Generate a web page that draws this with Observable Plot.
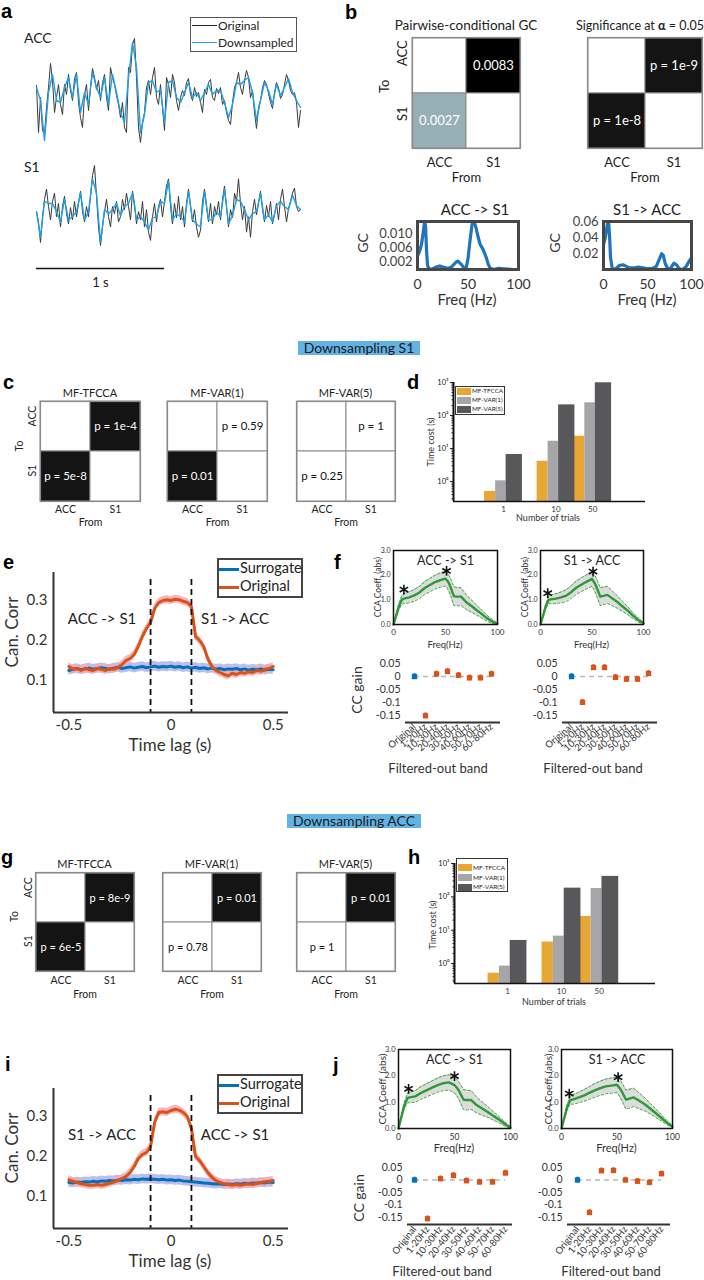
<!DOCTYPE html>
<html>
<head>
<meta charset="utf-8">
<script src="https://cdn.jsdelivr.net/npm/d3@7"></script>
<script src="https://cdn.jsdelivr.net/npm/@observablehq/plot@0.6"></script>
<style>
  html, body { margin: 0; padding: 0; background: #fff; }
  #fig { position: relative; width: 704px; height: 1280px; overflow: hidden; background: #fff; }
  .t { position: absolute; white-space: nowrap; line-height: 1; }
</style>
</head>
<body>
<div id="fig"></div>
<script>
// ---------------- data ----------------
// a: example traces (arbitrary units), original and downsampled
const rateOriginal = 64;     // samples per second
const rateDownsampled = 32;
const accOriginal = [7,-40,-5,-38,-42,-15,5,29,12,-20,-5,8,-12,-22,8,-2,18,2,-8,14,20,-10,-25,-35,-2,8,-18,5,24,15,3,12,-8,10,18,-5,-18,25,15,8,-3,-12,-25,-10,-35,-40,25,20,48,54,15,-35,-50,-30,-20,5,12,-2,15,25,-5,-12,8,-15,-38,15,8,-5,18,10,-8,-18,-5,2,-3,10,14,-2,-8,5,-4,0,-10,-20,3,-2,10,13,-5,-8,4,-1,5,-12,-8,-20,-28,-32,-10,5,10,20,5,-2,12,22,15,-5,2,-20,-36,-15,-8,5,12,8,-1,-10,-16,0,10,5,-6,-2,8,18,12,2,-2,0,-10,-35,-18];
const accDownsampled = [5,-8,-48,0,18,-8,-10,5,15,-5,18,-20,0,-12,20,5,-5,15,-12,18,0,-20,-30,15,50,25,-40,-22,10,12,0,3,-30,10,12,-5,-10,0,10,-5,0,-8,0,8,-2,2,2,-10,-25,-12,10,8,12,15,0,-28,-8,10,2,-12,8,-3,5,14,0,-8,-15];
const s1Original = [0,-10,-30,-5,12,22,5,-8,10,18,-5,8,-15,5,15,-2,-12,4,-8,10,-5,8,20,0,-10,5,-5,15,35,45,15,-15,-33,-15,0,12,-5,-15,5,-2,10,-10,-5,12,2,18,5,-8,20,8,-12,0,-8,10,-15,2,-20,-28,-5,8,-10,5,12,-5,10,25,32,5,-12,8,-6,15,-8,5,-15,8,22,5,-10,2,-15,-25,-18,10,22,5,-10,8,-12,5,-3,10,-8,12,25,5,-15,2,-6,18,10,32,8,-8,5,-20,-5,-25,0,12,-3,8,20,2,-10,6,-5,10,-12,-3,8,-8,12,22,5,-10,3,10,18,23,5,0,2];
const s1Downsampled = [0,-25,10,8,8,0,-10,12,-8,-5,0,18,-8,0,32,18,-30,2,-2,2,8,-4,5,8,18,-8,-5,-10,-18,-6,-5,10,8,30,-8,-2,-5,-10,20,-8,-12,-15,20,-8,-8,0,-5,22,-12,-4,12,10,2,-8,-2,0,18,-8,-3,-10,6,10,5,2,16,6,2];
const scaleBar = [{from: 0, to: 1, label: "1 s"}];

// b: pairwise-conditional GC between the two regions
const regions = ["ACC", "S1"];
const gcMagnitude = [0.0027, 0.0083];   // ACC -> S1, S1 -> ACC
const gcPValue = [1e-8, 1e-9];          // ACC -> S1, S1 -> ACC
const alpha = 0.05;
const gcFreqAccToS1 = [0,2,4,6,7,8,9,10,12,15,18,22,26,30,34,38,40,43,46,48,50,52,54,56,58,60,62,65,68,70,72,76,80,85,90,95,100];
const gcAccToS1 = [0.0038,0.005,0.007,0.011,0.0133,0.012,0.005,0.001,0,0.0002,0.0006,0.001,0.0006,0.0003,0.0008,0.002,0.0023,0.0015,0.0005,0.0002,0.003,0.008,0.0125,0.0133,0.0115,0.009,0.007,0.0055,0.0034,0.0015,0.0003,0,0.0003,0.0002,0.0001,0,0];
const gcFreqS1ToAcc = [0,2,4,5,6,7,8,10,12,15,18,22,26,30,35,40,45,50,55,60,63,66,68,70,73,76,80,83,86,90,94,97,100];
const gcS1ToAcc = [0.032,0.04,0.055,0.061,0.058,0.04,0.015,0.001,0,0.002,0.005,0.006,0.004,0.002,0.002,0.003,0.002,0.001,0.001,0.004,0.012,0.02,0.018,0.008,0.001,0.001,0.008,0.006,0.001,0,0.004,0.01,0.015];

// c, g: significance of each direction for the three methods
const methods = ["MF-TFCCA", "MF-VAR(1)", "MF-VAR(5)"];
const pDownS1AccToS1 = [5e-8, 0.01, 0.25];
const pDownS1S1ToAcc = [1e-4, 0.59, 1];
const pDownAccAccToS1 = [6e-5, 0.78, 1];
const pDownAccS1ToAcc = [8e-9, 0.01, 0.01];

// d, h: computation time (s) by number of trials
const trialCounts = [1, 10, 50];
const costS1Tfcca = [0.5, 4.1, 23.6];
const costS1Var1 = [1.05, 16.6, 243];
const costS1Var5 = [6.6, 210, 980];
const costAccTfcca = [0.51, 4.4, 25.8];
const costAccVar1 = [0.83, 6.6, 178];
const costAccVar5 = [4.9, 182, 410];

// e, i: canonical correlation by time lag
const lagTime = [-0.5,-0.48,-0.46,-0.44,-0.42,-0.4,-0.38,-0.36,-0.34,-0.32,-0.3,-0.28,-0.26,-0.24,-0.22,-0.2,-0.18,-0.16,-0.14,-0.12,-0.1,-0.08,-0.06,-0.04,-0.02,0,0.02,0.04,0.06,0.08,0.1,0.12,0.14,0.16,0.18,0.2,0.22,0.24,0.26,0.28,0.3,0.32,0.34,0.36,0.38,0.4,0.42,0.44,0.46,0.48,0.5];
const lagS1Original = [0.135,0.128,0.130,0.125,0.130,0.127,0.125,0.130,0.128,0.125,0.130,0.128,0.132,0.140,0.150,0.155,0.165,0.185,0.210,0.230,0.245,0.280,0.295,0.300,0.302,0.300,0.303,0.302,0.298,0.295,0.285,0.210,0.200,0.185,0.155,0.135,0.125,0.120,0.115,0.112,0.118,0.115,0.120,0.118,0.122,0.120,0.125,0.123,0.128,0.130,0.135];
const lagS1Surrogate = [0.125,0.128,0.130,0.127,0.129,0.131,0.128,0.130,0.132,0.130,0.128,0.131,0.133,0.130,0.132,0.134,0.131,0.133,0.135,0.132,0.134,0.136,0.133,0.135,0.134,0.136,0.133,0.135,0.132,0.134,0.131,0.133,0.130,0.132,0.129,0.131,0.128,0.130,0.127,0.129,0.128,0.130,0.127,0.129,0.126,0.128,0.127,0.129,0.126,0.128,0.127];
const lagAccOriginal = [0.142,0.138,0.135,0.132,0.130,0.128,0.128,0.130,0.128,0.130,0.133,0.136,0.140,0.145,0.150,0.160,0.175,0.195,0.205,0.210,0.225,0.285,0.310,0.312,0.310,0.315,0.318,0.316,0.310,0.300,0.270,0.200,0.190,0.175,0.160,0.148,0.140,0.135,0.132,0.130,0.128,0.130,0.128,0.130,0.132,0.130,0.133,0.135,0.137,0.138,0.140];
const lagAccSurrogate = [0.135,0.134,0.136,0.135,0.137,0.136,0.138,0.137,0.139,0.138,0.140,0.139,0.141,0.140,0.142,0.141,0.143,0.142,0.144,0.143,0.144,0.143,0.142,0.143,0.141,0.142,0.140,0.141,0.139,0.138,0.137,0.136,0.135,0.134,0.133,0.132,0.131,0.132,0.130,0.131,0.130,0.132,0.131,0.133,0.132,0.134,0.133,0.135,0.134,0.136,0.135];
const lagSemOriginal = 0.01;
const lagSemSurrogate = 0.012;
const lagBounds = [-0.1, 0.1];

// f, j: CCA coefficient spectra
const ccaFreq = [0,5,8,10,15,20,25,30,35,40,45,50,53,55,58,60,65,70,75,80,85,90,95,100];
const ccaS1AccToS1 = [0,0.7,1.0,1.05,1.1,1.18,1.3,1.48,1.6,1.72,1.8,1.86,1.7,1.5,1.15,1.13,1.13,0.9,0.75,0.58,0.42,0.25,0.12,0.03];
const ccaS1S1ToAcc = [0,0.72,1.0,1.02,1.05,1.1,1.17,1.32,1.5,1.62,1.74,1.85,1.65,1.45,1.13,1.15,1.2,1.05,0.9,0.72,0.55,0.35,0.18,0.05];
const ccaAccAccToS1 = [0,0.85,1.15,1.18,1.22,1.35,1.45,1.55,1.65,1.72,1.75,1.65,1.5,1.35,1.1,1.08,1.08,0.88,0.75,0.62,0.47,0.33,0.17,0.03];
const ccaAccS1ToAcc = [0,0.8,1.08,1.1,1.17,1.25,1.35,1.45,1.53,1.6,1.63,1.66,1.5,1.35,1.1,1.12,1.18,1.05,0.92,0.75,0.58,0.4,0.22,0.07];
const ccaSpreadA = [0,0.12,0.18,0.2,0.22,0.24,0.25,0.26,0.27,0.28,0.29,0.3,0.32,0.35,0.38,0.38,0.36,0.3,0.25,0.2,0.16,0.12,0.08,0.03];
const ccaSpreadB = [0,0.1,0.15,0.18,0.2,0.22,0.24,0.26,0.27,0.28,0.29,0.3,0.33,0.35,0.36,0.36,0.35,0.3,0.25,0.2,0.16,0.12,0.08,0.04];
const sigS1AccToS1 = [10, 51];
const sigS1S1ToAcc = [7, 51];
const sigAccAccToS1 = [9, 50];
const sigAccS1ToAcc = [7, 51];

// f, j: change of canonical correlation when a band is filtered out
const filterBands = ["Original","1-20Hz","10-30Hz","20-40Hz","30-50Hz","40-60Hz","50-70Hz","60-80Hz"];
const gainS1AccToS1 = [0, -0.152, 0.01, 0.02, 0.005, -0.005, -0.005, 0.01];
const gainS1S1ToAcc = [0, -0.10, 0.035, 0.035, -0.003, -0.01, -0.01, 0.012];
const gainAccAccToS1 = [0, -0.155, 0.005, 0.018, -0.003, -0.008, -0.008, 0.028];
const gainAccS1ToAcc = [0, -0.13, 0.037, 0.038, 0, -0.005, -0.01, 0.025];
const gainErr = 0.011;

// ---------------- helpers ----------------
const FONT = "Lato, 'Open Sans', sans-serif";
const LETTER = "'Liberation Sans', Arial, sans-serif";
const BLUE = "#0072bd", ORANGE = "#d95319", GREEN = "#2f9a35";
const METHOD_COLORS = ["#e8a735", "#a6a6a8", "#58585a"];
const root = document.getElementById("fig");

function place(x0, y0, x1, y1, options) {
  const [mt, mr, mb, ml] = options.m ?? [0, 0, 0, 0];
  const {m, style, ...rest} = options;
  const svg = Plot.plot({
    ...rest,
    width: x1 - x0 + ml + mr,
    height: y1 - y0 + mt + mb,
    marginTop: mt, marginRight: mr, marginBottom: mb, marginLeft: ml,
    style: {fontFamily: FONT, fontSize: "12px", color: "#222", background: "transparent", overflow: "visible", ...(style ?? {})}
  });
  Object.assign(svg.style, {position: "absolute", left: (x0 - ml) + "px", top: (y0 - mt) + "px"});
  root.appendChild(svg);
  return svg;
}

function txt(s, x, base, o = {}) {
  const fs = o.size ?? 12;
  const d = document.createElement("div");
  d.className = "t";
  if (o.html) d.innerHTML = s; else d.textContent = s;
  Object.assign(d.style, {
    fontSize: fs + "px", fontFamily: o.family ?? FONT, fontWeight: o.weight ?? "normal",
    color: o.color ?? "#222", left: x + "px", top: (base - fs * (o.asc ?? 0.87)) + "px"
  });
  const a = o.anchor ?? "start";
  if (a !== "start") d.style.transform = `translateX(${a === "middle" ? -50 : -100}%)`;
  root.appendChild(d);
  return d;
}

function vtxt(s, cx, cy, o = {}) {
  const fs = o.size ?? 12;
  const d = document.createElement("div");
  d.className = "t";
  d.textContent = s;
  Object.assign(d.style, {
    fontSize: fs + "px", fontFamily: FONT, color: o.color ?? "#222",
    left: cx + "px", top: cy + "px", transform: "translate(-50%,-50%) rotate(-90deg)"
  });
  root.appendChild(d);
}

function letter(s, x, base) { txt(s, x, base, {size: 20, weight: "bold", family: LETTER, asc: 0.85, color: "#000"}); }

function banner(s, x0, y0, x1, y1, fs) {
  const d = document.createElement("div");
  d.className = "t";
  d.textContent = s;
  Object.assign(d.style, {
    left: x0 + "px", top: y0 + "px", width: (x1 - x0) + "px", height: (y1 - y0) + "px",
    background: "#62b2e4", fontSize: fs + "px", fontFamily: FONT, color: "#1a1a1a",
    textAlign: "center", lineHeight: (y1 - y0) + "px"
  });
  root.appendChild(d);
}

function legendBox(x, y, w, h, items, o) {
  const box = document.createElement("div");
  Object.assign(box.style, {
    position: "absolute", left: x + "px", top: y + "px", width: w + "px", height: h + "px",
    border: `${o.border}px solid ${o.borderColor}`, boxSizing: "border-box", background: "#fff"
  });
  items.forEach((it, i) => {
    const cy = o.rowY[i];
    const sw = document.createElement("div");
    const sh = it.kind === "line" ? o.lw : o.swH;
    Object.assign(sw.style, {position: "absolute", left: o.swX + "px", top: (cy - sh / 2) + "px", width: o.swW + "px", height: sh + "px", background: it.color});
    const t = document.createElement("div");
    Object.assign(t.style, {
      position: "absolute", left: o.textX + "px", top: cy + "px", transform: "translateY(-52%)",
      fontSize: o.fs + "px", fontFamily: FONT, lineHeight: "1", whiteSpace: "nowrap", color: "#222"
    });
    t.textContent = it.label;
    box.append(sw, t);
  });
  root.appendChild(box);
}

function interp(xs, ys, x) {
  const i = Math.max(0, Math.min(xs.length - 2, d3.bisectRight(xs, x) - 1));
  const t = (x - xs[i]) / (xs[i + 1] - xs[i]);
  return ys[i] + t * (ys[i + 1] - ys[i]);
}

// MATLAB "bone" colormap
function bone(t) {
  const c = v => Math.max(0, Math.min(1, v));
  const hr = c(t / 0.375), hg = c((t - 0.375) / 0.375), hb = c((t - 0.75) / 0.25);
  return d3.rgb(255 * (7 * t + hb) / 8, 255 * (7 * t + hg) / 8, 255 * (7 * t + hr) / 8).formatHex();
}

const fmtP = p => p < 0.001 ? p.toExponential(0) : String(p);

// 2x2 matrix: rows are "To", columns are "From"; off-diagonal cells hold ACC->S1 and S1->ACC
function pairCells(accToS1, s1ToAcc) {
  return regions.flatMap(to => regions.map(from => ({
    from, to,
    v: from === "ACC" && to === "S1" ? accToS1 : from === "S1" && to === "ACC" ? s1ToAcc : null
  })));
}

function matrixPanel(c) {
  const cells = c.cells;
  const marks = [
    Plot.cell(cells, {x: "from", y: "to", fill: c.fill, stroke: "#8a8a8a", strokeWidth: 1}),
    Plot.text(cells.filter(d => d.v != null), {x: "from", y: "to", text: c.label, fill: c.labelFill, fontSize: c.fsCell}),
    Plot.frame({stroke: "#8a8a8a", strokeWidth: 1.2}),
    Plot.text(regions, {x: d => d, text: d => d, frameAnchor: "bottom", dy: c.tickDy, lineAnchor: "bottom", fontSize: c.fsTick}),
    Plot.text(["From"], {text: d => d, frameAnchor: "bottom", dy: c.fromDy, lineAnchor: "bottom", fontSize: c.fsTick})
  ];
  if (c.yAxis) marks.push(
    Plot.text(regions, {y: d => d, text: d => d, frameAnchor: "left", dx: c.yTickDx, rotate: -90, lineAnchor: "bottom", fontSize: c.fsTick}),
    Plot.text(["To"], {text: d => d, frameAnchor: "left", dx: c.toDx, rotate: -90, lineAnchor: "bottom", fontSize: c.fsTick})
  );
  place(c.x0, c.y0, c.x1, c.y1, {
    x: {domain: regions, padding: 0, axis: null},
    y: {domain: regions, padding: 0, axis: null},
    color: c.color,
    marks
  });
  if (c.title) txt(c.title, c.titleX ?? (c.x0 + c.x1) / 2, c.titleBase, {anchor: "middle", size: c.fsTitle, html: c.titleHtml});
}

function sigMatrix(c, accToS1, s1ToAcc) {
  matrixPanel({
    ...c,
    cells: pairCells(accToS1, s1ToAcc),
    fill: d => d.v != null && d.v < alpha ? "#141414" : "#ffffff",
    label: d => "p = " + fmtP(d.v),
    labelFill: d => d.v < alpha ? "#ffffff" : "#111111"
  });
}

function gcSpectrum(x0, y0, x1, y1, freq, values, ticks, digits) {
  place(x0, y0, x1, y1, {
    x: {domain: [0, 100], axis: null},
    y: {domain: [0, d3.max(values)], axis: null},
    marks: [
      Plot.line(values, {x: (d, i) => freq[i], y: d => d, stroke: "#1f74bb", strokeWidth: 3.2, clip: true}),
      Plot.frame({stroke: "#474747", strokeWidth: 3}),
      Plot.axisX({ticks: [0, 50, 100], tickSize: 0, tickPadding: 10, fontSize: 14, color: "#333", label: null}),
      Plot.axisY({ticks, tickSize: 0, tickPadding: 5, fontSize: 13, color: "#444", label: null, tickFormat: d => d.toFixed(digits)})
    ]
  });
}

function costPanel(c) {
  const series = [c.tfcca, c.var1, c.var5];
  const rows = methods.flatMap((m, j) => trialCounts.map((n, i) => ({method: m, slot: j, trials: n, cost: series[j][i]})));
  const slots = [[-0.36, -0.15], [-0.15, 0.05], [0.05, 0.36]]; // log10 offsets within a group
  const floor = c.yDomain[0];
  const minor = [];
  for (let e = -1; e < 3; ++e) for (let k = 2; k <= 9; ++k) { const v = k * 10 ** e; if (v > floor) minor.push(v); }
  const sup = {0: "\u2070", 1: "\u00b9", 2: "\u00b2", 3: "\u00b3"};
  place(c.x0, c.y0, c.x1, c.y1, {
    x: {type: "log", domain: c.xDomain, axis: null},
    y: {type: "log", domain: c.yDomain, axis: null},
    color: {domain: methods, range: METHOD_COLORS},
    marks: [
      Plot.rect(rows, {
        x1: d => d.trials * 10 ** slots[d.slot][0], x2: d => d.trials * 10 ** slots[d.slot][1],
        y1: floor, y2: "cost", fill: "method"
      }),
      Plot.ruleY([floor], {stroke: "#111", strokeWidth: 1.5}),
      Plot.ruleX([c.xDomain[0]], {stroke: "#111", strokeWidth: 2}),
      Plot.axisY({ticks: [1, 10, 100, 1000], tickSize: 3, tickPadding: 2, fontSize: 7.5, label: null, tickFormat: d => "10" + sup[Math.round(Math.log10(d))]}),
      Plot.axisY({ticks: minor, tickSize: 1.5, tickFormat: () => "", label: null}),
      Plot.text(trialCounts, {x: d => d, text: d => String(d), frameAnchor: "bottom", dy: 10, lineAnchor: "bottom", fontSize: 8, fill: "#333"})
    ]
  });
}

function lagPanel(c) {
  const rows = lagTime.map((t, i) => ({t, o: c.original[i], s: c.surrogate[i]}));
  const yDomain = [0.02, 0.37];
  const xDomain = [-0.575, 0.575];
  place(53, c.y0, 288, c.y1, {
    x: {domain: xDomain, axis: null},
    y: {domain: yDomain, axis: null},
    marks: [
      Plot.areaY(rows, {x: "t", y1: d => d.s - lagSemSurrogate, y2: d => d.s + lagSemSurrogate, fill: "#b3b3e8", fillOpacity: 0.85}),
      Plot.areaY(rows, {x: "t", y1: d => d.o - lagSemOriginal, y2: d => d.o + lagSemOriginal, fill: "#f6a9b1", fillOpacity: 0.85}),
      Plot.line(rows, {x: "t", y: "s", stroke: BLUE, strokeWidth: 3}),
      Plot.line(rows, {x: "t", y: "o", stroke: ORANGE, strokeWidth: 3}),
      Plot.ruleX(lagBounds, {stroke: "#111", strokeWidth: 1.8, strokeDasharray: "6,4", insetTop: 7}),
      Plot.ruleX([xDomain[0]], {stroke: "#333", strokeWidth: 2}),
      Plot.ruleY([yDomain[0]], {stroke: "#333", strokeWidth: 2}),
      Plot.axisY({ticks: [0.1, 0.2, 0.3], tickSize: 0, tickPadding: 6, fontSize: 15, color: "#333", label: null, tickFormat: d => d.toFixed(1)}),
      Plot.axisX({ticks: [-0.5, 0, 0.5], tickSize: 0, tickPadding: 7, fontSize: 15, color: "#333", label: null, tickFormat: d => String(d)})
    ]
  });
  legendBox(217, c.legendY, 86, 40, [
    {label: "Surrogate", color: BLUE, kind: "line"},
    {label: "Original", color: ORANGE, kind: "line"}
  ], {border: 2, borderColor: "#444", rowY: [9, 27], swX: 0, swW: 20, lw: 3, textX: 21, fs: 14.5});
  txt(c.leftText, 102, c.annBase, {anchor: "middle", size: 15});
  txt(c.rightText, 235, c.annBase, {anchor: "middle", size: 15});
  vtxt("Can. Corr", 11, c.yLabelY, {size: 17, color: "#333"});
  txt("Time lag (s)", 170, c.xLabelBase, {anchor: "middle", size: 17, color: "#333"});
}

function ccaPanel(c) {
  const rows = ccaFreq.map((f, i) => ({f, m: c.mean[i], lo: c.mean[i] - c.spread[i], hi: c.mean[i] + c.spread[i]}));
  const stars = c.sig.map(f => ({f, m: interp(ccaFreq, c.mean, f)}));
  place(c.x0, c.y0, c.x1, c.y1, {
    x: {domain: [0, 100], axis: null},
    y: {domain: [0, 3], axis: null},
    marks: [
      Plot.areaY(rows, {x: "f", y1: "lo", y2: "hi", fill: "#dcdcdc", clip: true}),
      Plot.line(rows, {x: "f", y: "lo", stroke: GREEN, strokeWidth: 0.9, strokeDasharray: "2.5,2", clip: true}),
      Plot.line(rows, {x: "f", y: "hi", stroke: GREEN, strokeWidth: 0.9, strokeDasharray: "2.5,2", clip: true}),
      Plot.line(rows, {x: "f", y: "m", stroke: GREEN, strokeWidth: 2.4}),
      // significance markers just above the curve
      Plot.dot(stars, {x: "f", y: "m", symbol: "asterisk", r: 4.6, stroke: "#111", strokeWidth: 1.6, dy: -9}),
      Plot.text([c.title], {text: d => d, frameAnchor: "top", dy: 14, lineAnchor: "bottom", fontSize: 12.5}),
      Plot.frame({stroke: "#111", strokeWidth: 1.5}),
      Plot.axisX({ticks: [0, 50, 100], tickSize: 0, tickPadding: 5, fontSize: c.fsTick, color: "#333", label: null}),
      Plot.axisY({ticks: [0, 1, 2, 3], tickSize: 0, tickPadding: 3, fontSize: c.fsTick - 1, color: "#333", label: null})
    ]
  });
  vtxt("CCA Coeff. (abs)", c.yLabelX, (c.y0 + c.y1) / 2, {size: c.fsLabel, color: "#333"});
  txt("Freq(Hz)", (c.x0 + c.x1) / 2, c.xLabelBase, {anchor: "middle", size: c.fsLabel + 1, color: "#333"});
}

function gainPanel(c) {
  const rows = filterBands.map((b, i) => ({band: b, v: c.values[i], color: i === 0 ? BLUE : ORANGE}));
  const yDomain = [-0.178, 0.07];
  place(c.x0, c.y0, c.x1, c.y1, {
    x: {type: "point", domain: filterBands, padding: 0.5, axis: null},
    y: {domain: yDomain, axis: null},
    marks: [
      Plot.ruleY([0], {x1: () => filterBands[0], x2: () => filterBands[filterBands.length - 1], stroke: "#b8b8b8", strokeWidth: 1.6, strokeDasharray: "5,4"}),
      Plot.ruleX(rows, {x: "band", y1: d => d.v - gainErr, y2: d => d.v + gainErr, stroke: "color", strokeWidth: 2.4}),
      Plot.dot(rows, {x: "band", y: "v", symbol: "square", r: 3, fill: "color", stroke: null}),
      Plot.ruleX([filterBands[0]], {x: () => null, stroke: "#333", strokeWidth: 2.2, frameAnchor: "left"}),
      Plot.ruleY([yDomain[0]], {stroke: "#333", strokeWidth: 2.2}),
      Plot.axisY({ticks: [0.05, 0, -0.05, -0.1, -0.15], tickSize: 0, tickPadding: 5, fontSize: 10.5, color: "#333", label: null, tickFormat: d => String(d)}),
      Plot.axisX({tickRotate: c.rotate, tickSize: 0, tickPadding: 3, fontSize: 9.5, color: "#333", label: null})
    ]
  });
}

// ---------------- panel a ----------------
const traceSpan = (accOriginal.length - 1) / rateOriginal;
letter("a", 1, 18);
txt("ACC", 24, 43, {size: 14});
txt("S1", 24, 172, {size: 14});
place(36, 38, 300, 142, {
  x: {domain: [0, traceSpan], axis: null},
  y: {domain: d3.extent(accOriginal), axis: null},
  marks: [
    Plot.line(accOriginal, {x: (d, i) => i / rateOriginal, y: d => d, stroke: "#3a3a3a", strokeWidth: 1}),
    Plot.line(accDownsampled, {x: (d, i) => i / rateDownsampled, y: d => d, stroke: "#1ea0e6", strokeWidth: 1.4})
  ]
});
place(36, 165, 300, 245, {
  x: {domain: [0, traceSpan], axis: null},
  y: {domain: d3.extent(s1Original), axis: null},
  marks: [
    Plot.line(s1Original, {x: (d, i) => i / rateOriginal, y: d => d, stroke: "#3a3a3a", strokeWidth: 1}),
    Plot.line(s1Downsampled, {x: (d, i) => i / rateDownsampled, y: d => d, stroke: "#1ea0e6", strokeWidth: 1.4})
  ]
});
place(36, 268, 300, 286, {
  x: {domain: [0, traceSpan], axis: null},
  y: {domain: [0, 1], axis: null},
  marks: [
    Plot.ruleY(scaleBar, {x1: "from", x2: "to", y: () => 1, stroke: "#111", strokeWidth: 1.3}),
    Plot.text(scaleBar, {x: d => (d.from + d.to) / 2, y: () => 0, text: "label", lineAnchor: "bottom", fontSize: 13})
  ]
});
legendBox(190, 17, 107, 35, [
  {label: "Original", color: "#222", kind: "line"},
  {label: "Downsampled", color: "#1ea0e6", kind: "line"}
], {border: 1.5, borderColor: "#555", rowY: [7.5, 24.5], swX: 1, swW: 25, lw: 1.5, textX: 27, fs: 12});

// ---------------- panel b ----------------
letter("b", 345, 19);
matrixPanel({
  x0: 412, y0: 37, x1: 520, y1: 148,
  cells: pairCells(gcMagnitude[0], gcMagnitude[1]),
  fill: d => d.v ?? 0,
  color: {type: "linear", domain: [0, d3.max(gcMagnitude)], interpolate: t => bone(1 - t)},
  label: d => d.v.toFixed(4), labelFill: "#ffffff",
  fsCell: 13, fsTick: 13, tickDy: 18, fromDy: 33,
  yAxis: true, yTickDx: -6, toDx: -24,
  title: "Pairwise-conditional GC", titleBase: 31, fsTitle: 13.5
});
sigMatrix({
  x0: 587, y0: 37, x1: 702, y1: 148,
  fsCell: 13, fsTick: 13, tickDy: 18, fromDy: 33,
  title: "Significance at <b>\u03b1</b> = 0.05", titleHtml: true, titleBase: 31, fsTitle: 12.5, titleX: 640
}, gcPValue[0], gcPValue[1]);
gcSpectrum(417, 221, 518, 269, gcFreqAccToS1, gcAccToS1, [0.002, 0.006, 0.010], 3);
gcSpectrum(603, 221, 691, 269, gcFreqS1ToAcc, gcS1ToAcc, [0.02, 0.04, 0.06], 2);
txt("ACC -> S1", 475, 215, {anchor: "middle", size: 15});
txt("S1 -> ACC", 647, 215, {anchor: "middle", size: 15});
vtxt("GC", 363, 243, {size: 14, color: "#333"});
vtxt("GC", 555, 243, {size: 14, color: "#333"});
txt("Freq (Hz)", 467, 305, {anchor: "middle", size: 15, color: "#333"});
txt("Freq (Hz)", 647, 305, {anchor: "middle", size: 15, color: "#333"});

// ---------------- downsampling S1: c, d, e, f ----------------
banner("Downsampling S1", 298, 341, 420, 355, 14);

letter("c", 3, 389);
const cCommon = {fsCell: 11.5, fsTick: 10.5, tickDy: 11, fromDy: 24, fsTitle: 11, titleBase: 397};
sigMatrix({...cCommon, x0: 40, y0: 401, x1: 140, y1: 501, yAxis: true, yTickDx: -5, toDx: -18, title: methods[0]}, pDownS1AccToS1[0], pDownS1S1ToAcc[0]);
sigMatrix({...cCommon, x0: 167, y0: 401, x1: 267, y1: 501, title: methods[1]}, pDownS1AccToS1[1], pDownS1S1ToAcc[1]);
sigMatrix({...cCommon, x0: 296, y0: 401, x1: 395, y1: 501, title: methods[2]}, pDownS1AccToS1[2], pDownS1S1ToAcc[2]);

letter("d", 407, 389);
costPanel({x0: 453, y0: 382, x1: 645, y1: 501, xDomain: [0.1116, 507], yDomain: [0.248, 1000],
  tfcca: costS1Tfcca, var1: costS1Var1, var5: costS1Var5});
legendBox(455, 386, 50, 29, methods.map((m, i) => ({label: m, color: METHOD_COLORS[i], kind: "swatch"})),
  {border: 1, borderColor: "#333", rowY: [4, 13, 22], swX: 1, swW: 14, swH: 7, textX: 16, fs: 6.3});
vtxt("Time cost (s)", 430, 442, {size: 9, color: "#333"});
txt("Number of trials", 548, 521, {anchor: "middle", size: 9, color: "#333"});

letter("e", 3, 569);
lagPanel({y0: 572, y1: 712, original: lagS1Original, surrogate: lagS1Surrogate, legendY: 558,
  leftText: "ACC -> S1", rightText: "S1 -> ACC", annBase: 624, yLabelY: 632, xLabelBase: 751});

letter("f", 334, 569);
ccaPanel({x0: 393, y0: 550, x1: 497, y1: 624, mean: ccaS1AccToS1, spread: ccaSpreadA, sig: sigS1AccToS1, title: "ACC -> S1", fsTick: 8, fsLabel: 8.5, yLabelX: 378, xLabelBase: 648});
ccaPanel({x0: 540, y0: 550, x1: 643, y1: 624, mean: ccaS1S1ToAcc, spread: ccaSpreadB, sig: sigS1S1ToAcc, title: "S1 -> ACC", fsTick: 8, fsLabel: 8.5, yLabelX: 525, xLabelBase: 648});
gainPanel({x0: 405, y0: 658, x1: 500, y1: 722, values: gainS1AccToS1, rotate: -40});
gainPanel({x0: 562, y0: 658, x1: 657, y1: 722, values: gainS1S1ToAcc, rotate: -40});
vtxt("CC gain", 357, 690, {size: 14, color: "#333"});
txt("Filtered-out band", 438, 773, {anchor: "middle", size: 13, color: "#333"});
txt("Filtered-out band", 593, 773, {anchor: "middle", size: 13, color: "#333"});

// ---------------- downsampling ACC: g, h, i, j ----------------
banner("Downsampling ACC", 287, 814, 421, 828, 14);

letter("g", 1, 864);
const gCommon = {fsCell: 11, fsTick: 10.5, tickDy: 12, fromDy: 26, fsTitle: 11, titleBase: 868};
sigMatrix({...gCommon, x0: 35, y0: 872, x1: 134, y1: 971, yAxis: true, yTickDx: -4, toDx: -18, title: methods[0]}, pDownAccAccToS1[0], pDownAccS1ToAcc[0]);
sigMatrix({...gCommon, x0: 162, y0: 872, x1: 261, y1: 971, title: methods[1]}, pDownAccAccToS1[1], pDownAccS1ToAcc[1]);
sigMatrix({...gCommon, x0: 296, y0: 872, x1: 395, y1: 971, title: methods[2]}, pDownAccAccToS1[2], pDownAccS1ToAcc[2]);

letter("h", 408, 864);
costPanel({x0: 454, y0: 863, x1: 655, y1: 983, xDomain: [0.1044, 550], yDomain: [0.25, 1000],
  tfcca: costAccTfcca, var1: costAccVar1, var5: costAccVar5});
legendBox(456, 858, 52, 34, methods.map((m, i) => ({label: m, color: METHOD_COLORS[i], kind: "swatch"})),
  {border: 1, borderColor: "#333", rowY: [8.7, 18.7, 28.2], swX: 1, swW: 14, swH: 7, textX: 16, fs: 6.5});
vtxt("Time cost (s)", 432, 925, {size: 9, color: "#333"});
txt("Number of trials", 554, 1005, {anchor: "middle", size: 9, color: "#333"});

letter("i", 5, 1071);
lagPanel({y0: 1088, y1: 1228, original: lagAccOriginal, surrogate: lagAccSurrogate, legendY: 1074,
  leftText: "S1 -> ACC", rightText: "ACC -> S1", annBase: 1140, yLabelY: 1148, xLabelBase: 1267});

letter("j", 333, 1072);
ccaPanel({x0: 398, y0: 1049, x1: 510, y1: 1128, mean: ccaAccAccToS1, spread: ccaSpreadA, sig: sigAccAccToS1, title: "ACC -> S1", fsTick: 8.5, fsLabel: 10, yLabelX: 382, xLabelBase: 1152});
ccaPanel({x0: 561, y0: 1049, x1: 672, y1: 1128, mean: ccaAccS1ToAcc, spread: ccaSpreadB, sig: sigAccS1ToAcc, title: "S1 -> ACC", fsTick: 8.5, fsLabel: 10, yLabelX: 548, xLabelBase: 1152});
gainPanel({x0: 407, y0: 1162, x1: 512, y1: 1224, values: gainAccAccToS1, rotate: -52});
gainPanel({x0: 567, y0: 1162, x1: 670, y1: 1224, values: gainAccS1ToAcc, rotate: -52});
vtxt("CC gain", 359, 1198, {size: 14, color: "#333"});
txt("Filtered-out band", 442, 1276, {anchor: "middle", size: 13, color: "#333"});
txt("Filtered-out band", 611, 1276, {anchor: "middle", size: 13, color: "#333"});
</script>
</body>
</html>
